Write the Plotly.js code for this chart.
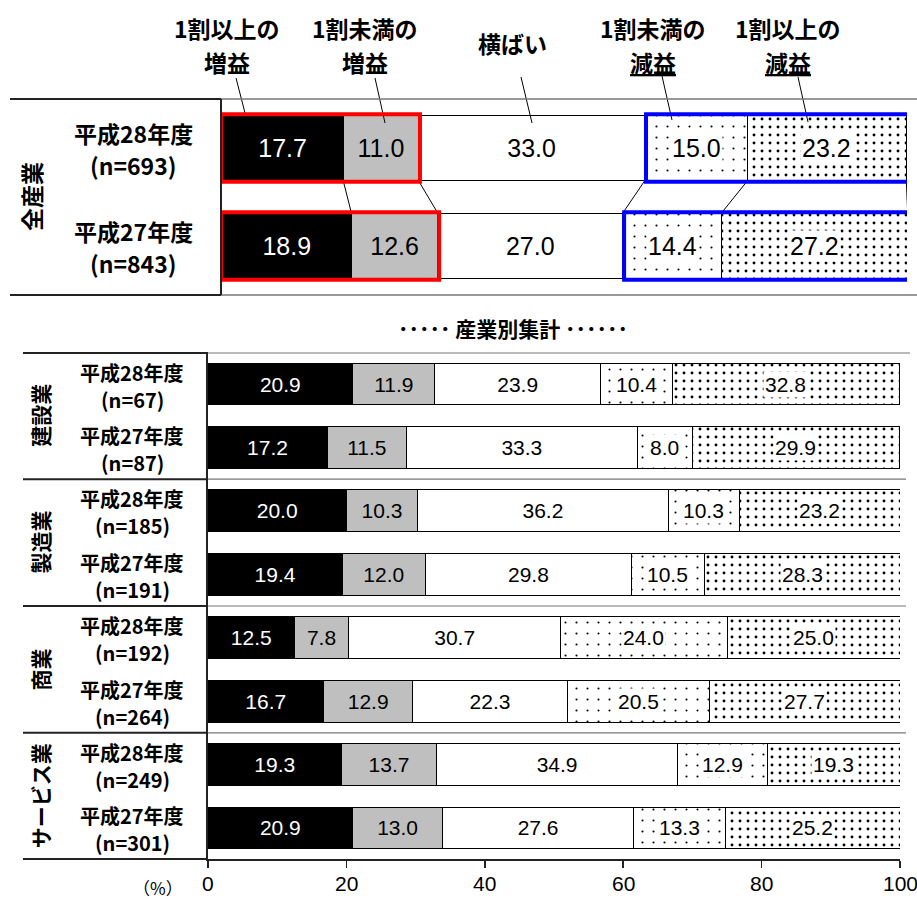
<!DOCTYPE html>
<html>
<head>
<meta charset="utf-8">
<script src="https://cdn.plot.ly/plotly-3.0.1.min.js"></script>
<style>
  html, body { margin: 0; padding: 0; background: #ffffff; }
  #chart { width: 917px; height: 899px; }
</style>
</head>
<body>
<div id="chart"></div>
<script>
// ---- data -------------------------------------------------------------
const seriesNames = ['1割以上の増益', '1割未満の増益', '横ばい', '1割未満の減益', '1割以上の減益'];

// 全産業
const allYears = ['平成28年度', '平成27年度'];
const allN = [693, 843];
const allInc10 = [17.7, 18.9];
const allInc = [11.0, 12.6];
const allFlat = [33.0, 27.0];
const allDec = [15.0, 14.4];
const allDec10 = [23.2, 27.2];

// 産業別集計 (two rows per industry: 平成28年度, 平成27年度)
const industries = ['建設業', '製造業', '商業', 'サービス業'];
const rowYears = ['平成28年度', '平成27年度', '平成28年度', '平成27年度',
                  '平成28年度', '平成27年度', '平成28年度', '平成27年度'];
const rowN = [67, 87, 185, 191, 192, 264, 249, 301];
const indInc10 = [20.9, 17.2, 20.0, 19.4, 12.5, 16.7, 19.3, 20.9];
const indInc = [11.9, 11.5, 10.3, 12.0, 7.8, 12.9, 13.7, 13.0];
const indFlat = [23.9, 33.3, 36.2, 29.8, 30.7, 22.3, 34.9, 27.6];
const indDec = [10.4, 8.0, 10.3, 10.5, 24.0, 20.5, 12.9, 13.3];
const indDec10 = [32.8, 29.9, 23.2, 28.3, 25.0, 27.7, 19.3, 25.2];

const xTicks = [0, 20, 40, 60, 80, 100];

// ---- page geometry helpers (pixel -> paper) ---------------------------
const W = 917, H = 899;
const px = x => x / W;
const py = y => 1 - y / H;

const JP = '"Noto Sans CJK JP", "Noto Sans", sans-serif';
const NUM = '"Liberation Sans Narrow", "Liberation Sans", Arial, sans-serif';
const NUM_TOP = 25, NUM_IND = 21;

const fills = ['#000000', '#bfbfbf', '#ffffff', '#ffffff', '#ffffff'];
const textColors = ['#ffffff', '#000000', '#000000', '#000000', '#000000'];
const patterns = [
  null, null, null,
  {shape: '.', fgcolor: '#000000', bgcolor: '#ffffff', size: 11, solidity: 0.03, fillmode: 'replace'},
  {shape: '.', fgcolor: '#000000', bgcolor: '#ffffff', size: 8, solidity: 0.1, fillmode: 'replace'}
];

function makeTraces(seriesVals, rows, xa, ya, width, fontSize) {
  return seriesVals.map((vals, k) => {
    const marker = {color: fills[k], line: {color: '#000000', width: 1}};
    if (patterns[k]) marker.pattern = patterns[k];
    const plain = k < 3;
    return {
      type: 'bar', orientation: 'h', name: seriesNames[k],
      x: vals, y: rows, xaxis: xa, yaxis: ya, width: width,
      marker: marker,
      text: plain ? vals.map(v => v.toFixed(1)) : null,
      textposition: plain ? 'inside' : 'none',
      insidetextanchor: 'middle',
      textangle: 0,
      constraintext: 'none',
      textfont: {family: NUM, size: fontSize, color: textColors[k]},
      hoverinfo: 'skip', showlegend: false, cliponaxis: false
    };
  });
}

const topRows = allYears.map((_, i) => i);
const indRows = rowYears.map((_, i) => i);
const topSeries = [allInc10, allInc, allFlat, allDec, allDec10];
const indSeries = [indInc10, indInc, indFlat, indDec, indDec10];

const traces = [
  ...makeTraces(indSeries, indRows, 'x', 'y', 0.66, NUM_IND),
  ...makeTraces(topSeries, topRows, 'x2', 'y2', 0.67, NUM_TOP)
];

// cumulative boundaries of each stacked row
function cumul(series, i) {
  const c = [0];
  series.forEach(s => c.push(c[c.length - 1] + s[i]));
  return c;
}

const annotations = [];
const shapes = [];

function note(o) {
  annotations.push(Object.assign({showarrow: false, xanchor: 'center', yanchor: 'middle'}, o));
}

// labels of the dotted segments sit on a white patch
function patternLabels(series, rows, xa, ya, fontSize) {
  rows.forEach(i => {
    const c = cumul(series, i);
    [3, 4].forEach(k => {
      note({
        xref: xa, yref: ya, x: (c[k] + c[k + 1]) / 2, y: i,
        text: series[k][i].toFixed(1),
        font: {family: NUM, size: fontSize, color: '#000000'},
        bgcolor: '#ffffff', borderpad: 1
      });
    });
  });
}
patternLabels(topSeries, topRows, 'x2', 'y2', NUM_TOP);
patternLabels(indSeries, indRows, 'x', 'y', NUM_IND);

// row labels (year + sample size)
function rowLabel(year, n, yref, y, xc, size, up, down) {
  note({xref: 'paper', yref: yref, x: px(xc), y: y, yshift: up,
    text: '<b>' + year + '</b>', font: {family: JP, size: size, color: '#000000'}});
  note({xref: 'paper', yref: yref, x: px(xc), y: y, yshift: -down,
    text: '<b>(n=' + n + ')</b>', font: {family: JP, size: size, color: '#000000'}});
}
allYears.forEach((yr, i) => rowLabel(yr, allN[i], 'y2', i, 133, 23, 15, 17));
rowYears.forEach((yr, i) => rowLabel(yr, rowN[i], 'y', i, 132, 20, 12, 15));

// vertical group labels
note({xref: 'paper', yref: 'y2', x: px(31), y: 0.5, textangle: -90,
  text: '<b>全産業</b>', font: {family: JP, size: 23, color: '#000000'}});
industries.forEach((name, g) => {
  note({xref: 'paper', yref: 'y', x: px(40), y: 2 * g + 0.5, textangle: -90,
    text: '<b>' + name + '</b>', font: {family: JP, size: 21, color: '#000000'}});
});

// column headers above the 全産業 bars (one annotation per line)
const headers = [
  {l1: '1割以上の', l2: '増益', x: 227},
  {l1: '1割未満の', l2: '増益', x: 365},
  {l1: '1割未満の', l2: '<u>減益</u>', x: 653},
  {l1: '1割以上の', l2: '<u>減益</u>', x: 788}
];
headers.forEach(h => {
  note({xref: 'paper', yref: 'paper', x: px(h.x), y: py(28),
    text: '<b>' + h.l1 + '</b>', font: {family: JP, size: 23, color: '#000000'}});
  note({xref: 'paper', yref: 'paper', x: px(h.x), y: py(62),
    text: '<b>' + h.l2 + '</b>', font: {family: JP, size: 23, color: '#000000'}});
});
note({xref: 'paper', yref: 'paper', x: px(512), y: py(43),
  text: '<b>横ばい</b>', font: {family: JP, size: 23, color: '#000000'}});

// leader lines from the headers to the bars
[[236, 78, 245, 113], [375, 78, 385, 123], [521, 77, 532, 123],
 [662, 76, 672, 120], [798, 77, 808, 122]].forEach(l => shapes.push({
  type: 'line', xref: 'paper', yref: 'paper',
  x0: px(l[0]), y0: py(l[1]), x1: px(l[2]), y1: py(l[3]),
  line: {color: '#000000', width: 1}}));

// section title for the industry breakdown
note({xref: 'paper', yref: 'paper', x: px(513), y: py(328),
  text: '<b>･････ 産業別集計 ･･････</b>', font: {family: JP, size: 21, color: '#000000'}});

// unit
note({xref: 'paper', yref: 'paper', x: px(158), y: py(887),
  text: '（%）', font: {family: JP, size: 17, color: '#000000'}});

// x tick labels of the industry block
xTicks.forEach(v => note({xref: 'x', yref: 'paper', x: v, y: py(883),
  text: String(v), font: {family: NUM, size: 21, color: '#000000'}}));

// series lines joining the 全産業 bars
const c0 = cumul(topSeries, 0), c1 = cumul(topSeries, 1);
for (let k = 1; k < c0.length; k++) {
  shapes.push({type: 'line', xref: 'x2', yref: 'y2',
    x0: c0[k], y0: 0.335, x1: c1[k], y1: 0.665,
    line: {color: '#000000', width: 1}});
}

// red frames (増益) and blue frames (減益)
topRows.forEach(i => {
  const c = cumul(topSeries, i);
  shapes.push({type: 'rect', xref: 'x2', yref: 'y2',
    x0: -0.15, x1: c[2] + 0.2, y0: i - 0.345, y1: i + 0.345,
    line: {color: '#ff0000', width: 4}, layer: 'above'});
  shapes.push({type: 'rect', xref: 'x2', yref: 'y2',
    x0: c[3] + 0.2, x1: c[5] + 0.5, y0: i - 0.345, y1: i + 0.345,
    line: {color: '#0000ff', width: 4}, layer: 'above'});
});

// table rules
function rule(x0, x1, y, color, width) {
  shapes.push({type: 'line', xref: 'paper', yref: 'paper',
    x0: px(x0), x1: px(x1), y0: py(y), y1: py(y), line: {color: color, width: width}});
}
function ruleY(x0, x1, yref, y, color, width) {
  shapes.push({type: 'line', xref: 'paper', yref: yref,
    x0: px(x0), x1: px(x1), y0: y, y1: y, line: {color: color, width: width}});
}
// top block
rule(10, 221, 99, '#222222', 2); rule(221, 917, 99, '#777777', 1.5);
rule(10, 221, 295, '#222222', 2); rule(221, 917, 295, '#777777', 1.5);
shapes.push({type: 'line', xref: 'paper', yref: 'paper', x0: px(221), x1: px(221),
  y0: py(99), y1: py(295), line: {color: '#222222', width: 2}});
// industry block
rule(23, 208, 353, '#222222', 2); rule(208, 910, 353, '#777777', 1.2);
[1.5, 3.5, 5.5].forEach(v => {
  ruleY(23, 208, 'y', v, '#222222', 2);
  ruleY(208, 906, 'y', v, '#777777', 1.2);
});
rule(23, 208, 859, '#222222', 2);

const layout = {
  width: W, height: H,
  margin: {l: 0, r: 0, t: 0, b: 0},
  paper_bgcolor: '#ffffff', plot_bgcolor: 'rgba(0,0,0,0)',
  barmode: 'stack', showlegend: false, hovermode: false,
  xaxis: {domain: [px(208), px(900)], range: [0, 100], tickvals: xTicks,
    showticklabels: false, showgrid: false, zeroline: false,
    showline: true, linecolor: '#222222', linewidth: 2, ticks: 'outside', ticklen: 7,
    tickcolor: '#222222', tickwidth: 1.5, anchor: 'y', fixedrange: true},
  yaxis: {domain: [py(859), py(353)], range: [7.49, -0.49], showticklabels: false,
    showgrid: false, zeroline: false, showline: true, linecolor: '#222222', linewidth: 2,
    ticks: '', anchor: 'x', fixedrange: true},
  xaxis2: {domain: [px(222), px(907)], range: [0, 100], showticklabels: false,
    showgrid: false, zeroline: false, showline: false, ticks: '', anchor: 'y2', fixedrange: true},
  yaxis2: {domain: [py(295), py(99)], range: [1.5, -0.5], showticklabels: false,
    showgrid: false, zeroline: false, showline: false, ticks: '', anchor: 'x2', fixedrange: true},
  annotations: annotations,
  shapes: shapes
};

Plotly.newPlot('chart', traces, layout, {displayModeBar: false, staticPlot: true});
</script>
</body>
</html>
